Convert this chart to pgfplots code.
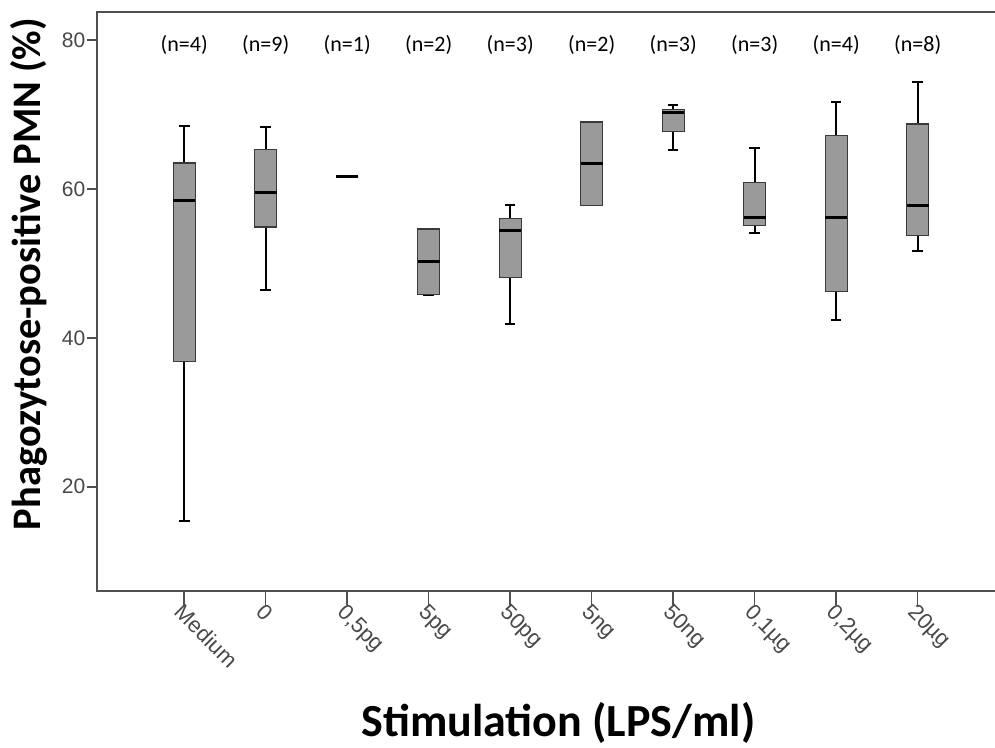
\documentclass[border=0pt]{standalone}
\usepackage{pgfplots}
\pgfplotsset{compat=1.18}
\usepgfplotslibrary{statistics}
\usepackage{fontspec}
\setmainfont{Carlito}
\newfontfamily\arialfont{Liberation Sans}
\definecolor{boxgray}{HTML}{9A9A9A}
\definecolor{boxedge}{HTML}{3A3A3A}
\definecolor{axgray}{HTML}{505050}
\definecolor{tickgray}{HTML}{484848}
\begin{document}
\begin{tikzpicture}
\useasboundingbox (0,0) rectangle (995pt,747pt);
\begin{axis}[
  at={(97pt,156pt)}, anchor=south west,
  scale only axis, width=903pt, height=579pt,
  xmin=-1.07, xmax=10.01, ymin=6, ymax=83.76,
  xtick={0,1,2,3,4,5,6,7,8,9},
  xticklabels={Medium,0,{0,5pg},5pg,50pg,5ng,50ng,{0,1µg},{0,2µg},20µg},
  ytick={20,40,60,80},
  xtick pos=bottom, ytick pos=left, tick align=outside,
  major tick length=10pt,
  xtick style={/pgfplots/major tick length=14pt},
  tick style={axgray, line width=1.5pt},
  axis line style={axgray, line width=1.6pt},
  ticklabel style={font=\arialfont\fontsize{21}{25}\selectfont, text=tickgray},
  xticklabel style={rotate=-45, anchor=north west, inner sep=1pt, font=\arialfont\fontsize{22}{26}\selectfont},
  yticklabel style={inner sep=1.5pt},
  /pgf/number format/assume math mode=true,
  xlabel={Stimulation (LPS/ml)},
  xlabel style={at={(axis description cs:0.511,-0.252)}, anchor=base, font=\bfseries\fontsize{46}{54}\selectfont},
  ylabel={Phagozytose-positive PMN (\%)},
  ylabel style={at={(axis description cs:-0.0757,0.5475)}, anchor=center, rotate=0, font=\bfseries\fontsize{40.5}{48}\selectfont},
  boxplot/draw direction=y,
  boxplot/box extend=0.27,
  boxplot/whisker extend=0.13,
  boxplot/every box/.style={draw=boxedge, fill=boxgray, line width=1.3pt},
  boxplot/every median/.style={black, line width=3pt},
  boxplot/every whisker/.style={black, line width=2pt},
]
\addplot[boxplot prepared={draw position=0, median=58.5, upper quartile=63.5, lower quartile=36.8, upper whisker=68.4, lower whisker=15.4}] coordinates {};
\addplot[boxplot prepared={draw position=1, median=59.5, upper quartile=65.3, lower quartile=54.9, upper whisker=68.3, lower whisker=46.4}] coordinates {};
\addplot[boxplot prepared={draw position=2, median=61.6, upper quartile=61.6, lower quartile=61.6, upper whisker=61.6, lower whisker=61.6}] coordinates {};
\addplot[boxplot prepared={draw position=3, median=50.2, upper quartile=54.6, lower quartile=45.8, upper whisker=54.6, lower whisker=45.8}] coordinates {};
\addplot[boxplot prepared={draw position=4, median=54.4, upper quartile=56.0, lower quartile=48.1, upper whisker=57.8, lower whisker=41.8}] coordinates {};
\addplot[boxplot prepared={draw position=5, median=63.4, upper quartile=69.0, lower quartile=57.8, upper whisker=69.0, lower whisker=57.8}] coordinates {};
\addplot[boxplot prepared={draw position=6, median=70.2, upper quartile=70.7, lower quartile=67.7, upper whisker=71.3, lower whisker=65.2}] coordinates {};
\addplot[boxplot prepared={draw position=7, median=56.1, upper quartile=60.9, lower quartile=55.1, upper whisker=65.5, lower whisker=54.1}] coordinates {};
\addplot[boxplot prepared={draw position=8, median=56.2, upper quartile=67.2, lower quartile=46.2, upper whisker=71.7, lower whisker=42.4}] coordinates {};
\addplot[boxplot prepared={draw position=9, median=57.8, upper quartile=68.7, lower quartile=53.7, upper whisker=74.4, lower whisker=51.7}] coordinates {};
\node[anchor=base, font=\fontsize{22}{26}\selectfont] at (axis cs:0,78.5) {(n=4)};
\node[anchor=base, font=\fontsize{22}{26}\selectfont] at (axis cs:1,78.5) {(n=9)};
\node[anchor=base, font=\fontsize{22}{26}\selectfont] at (axis cs:2,78.5) {(n=1)};
\node[anchor=base, font=\fontsize{22}{26}\selectfont] at (axis cs:3,78.5) {(n=2)};
\node[anchor=base, font=\fontsize{22}{26}\selectfont] at (axis cs:4,78.5) {(n=3)};
\node[anchor=base, font=\fontsize{22}{26}\selectfont] at (axis cs:5,78.5) {(n=2)};
\node[anchor=base, font=\fontsize{22}{26}\selectfont] at (axis cs:6,78.5) {(n=3)};
\node[anchor=base, font=\fontsize{22}{26}\selectfont] at (axis cs:7,78.5) {(n=3)};
\node[anchor=base, font=\fontsize{22}{26}\selectfont] at (axis cs:8,78.5) {(n=4)};
\node[anchor=base, font=\fontsize{22}{26}\selectfont] at (axis cs:9,78.5) {(n=8)};
\end{axis}
\end{tikzpicture}
\end{document}
